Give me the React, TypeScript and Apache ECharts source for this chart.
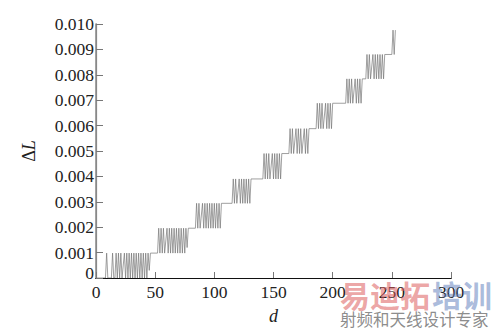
import React, { useEffect, useRef } from 'react';
import * as echarts from 'echarts';

const xTickValues = [0, 50, 100, 150, 200, 250, 300];
const yTickValues = [0, 0.001, 0.002, 0.003, 0.004, 0.005, 0.006, 0.007, 0.008, 0.009, 0.01];

const step0: [number, number][] = [[0,0],[8,0],[9,0.00098],[10,0],[13,0],[14,0.00098],[15,0],[16,0],[17,0.00098],[18,0],[19,0.00098],[20,0],[21,0.00098],[22,0],[24,0.00098],[25,0],[26,0.00098],[27,0],[28,0.00098],[29,0],[30,0.00098],[31,0],[32,0.00098],[33,0],[34,0.00098],[35,0],[36,0.00098],[37,0],[38,0.00098],[39,0],[40,0.00098],[41,0],[42,0.00098],[43,0],[44,0.00098],[45,0.0003],[46,0.00098],[52,0.00098]];
const step1: [number, number][] = [[53,0.00196],[54,0.00098],[55,0.00196],[56,0.00098],[57,0.00196],[58,0.00098],[60,0.00196],[61,0.00098],[62,0.00196],[63,0.00098],[64,0.00196],[65,0.00098],[66,0.00196],[67,0.00098],[68,0.00196],[69,0.00098],[70,0.00196],[71,0.00098],[72,0.00196],[73,0.00098],[74,0.00196],[75,0.00098],[76,0.00196],[77,0.0012],[78,0.00196],[84,0.00196]];
const step2: [number, number][] = [[85,0.00294],[86,0.00196],[87,0.00294],[88,0.00196],[90,0.00294],[91,0.00196],[92,0.00294],[93,0.00196],[94,0.00294],[95,0.00196],[96,0.00294],[97,0.00196],[98,0.00294],[99,0.00196],[100,0.00294],[101,0.00196],[102,0.00294],[103,0.00196],[104,0.00294],[105,0.00196],[106,0.00294],[115,0.00294]];
const step3: [number, number][] = [[116,0.0039],[117,0.00294],[118,0.0039],[119,0.00294],[121,0.0039],[122,0.00294],[123,0.0039],[124,0.00294],[125,0.0039],[126,0.00294],[127,0.0039],[128,0.00294],[129,0.0039],[130,0.00294],[131,0.0039],[141,0.0039]];
const step4: [number, number][] = [[142,0.0049],[143,0.0039],[144,0.0049],[145,0.0039],[146,0.0049],[147,0.0039],[149,0.0049],[150,0.0039],[151,0.0049],[152,0.0039],[153,0.0049],[154,0.0039],[155,0.0049],[156,0.0039],[157,0.0049],[163,0.0049]];
const step5: [number, number][] = [[164,0.00588],[165,0.0049],[166,0.00588],[167,0.0049],[169,0.00588],[170,0.0049],[171,0.00588],[172,0.0049],[173,0.00588],[174,0.0049],[176,0.00588],[177,0.0049],[178,0.00588],[179,0.0049],[180,0.00588],[186,0.00588]];
const step6: [number, number][] = [[187,0.00688],[188,0.00588],[189,0.00688],[190,0.00588],[191,0.00688],[192,0.00588],[194,0.00688],[195,0.00588],[196,0.00688],[197,0.00588],[198,0.00688],[199,0.00588],[200,0.00688],[211,0.00688]];
const step7: [number, number][] = [[212,0.00784],[213,0.00688],[214,0.00784],[215,0.00688],[216,0.00784],[217,0.00688],[219,0.00784],[220,0.00688],[221,0.00784],[222,0.00688],[223,0.00784],[224,0.00688],[225,0.00784],[228,0.00784]];
const step8: [number, number][] = [[229,0.0088],[230,0.00784],[231,0.0088],[232,0.00784],[234,0.0088],[235,0.00784],[236,0.0088],[237,0.00784],[238,0.0088],[239,0.00784],[240,0.0088],[241,0.00784],[242,0.0088],[243,0.00784],[244,0.0088],[250,0.0088]];
const step9: [number, number][] = [[251,0.00976],[252,0.0088],[253,0.00976]];

const FONT = 'Times New Roman, Liberation Serif, serif';

export default function App() {
  const ref = useRef<HTMLDivElement>(null);
  useEffect(() => {
    if (!ref.current) return;
    const chart = echarts.init(ref.current, null, { renderer: 'svg' });
    const data = [...step0, ...step1, ...step2, ...step3, ...step4, ...step5, ...step6, ...step7, ...step8, ...step9];
    const xMin = xTickValues[0];
    const xMax = xTickValues[xTickValues.length - 1];
    const yMin = yTickValues[0];
    const yMax = yTickValues[yTickValues.length - 1];
    chart.setOption({
      animation: false,
      backgroundColor: '#fff',
      textStyle: { fontFamily: FONT },
      grid: { left: 96, right: 43, top: 24, bottom: 53 },
      xAxis: [
        {
          type: 'value', min: xMin, max: xMax, interval: 50, position: 'bottom',
          axisLine: { lineStyle: { color: '#111', width: 1.2 } },
          axisTick: { inside: true, length: 6, lineStyle: { color: '#777' } },
          axisLabel: { fontSize: 17.5, color: '#222', fontFamily: FONT, margin: 5 },
          splitLine: { show: false },
          name: 'd', nameLocation: 'middle', nameGap: 29,
          nameTextStyle: { fontSize: 18, fontStyle: 'italic', fontFamily: FONT, color: '#222' },
        },
        {
          type: 'value', min: xMin, max: xMax, position: 'top',
          axisLine: { lineStyle: { color: '#111', width: 1.2 } },
          axisTick: { show: false }, axisLabel: { show: false }, splitLine: { show: false },
        },
      ],
      yAxis: [
        {
          type: 'value', min: yMin, max: yMax, interval: 0.001, position: 'left',
          axisLine: { show: true, lineStyle: { color: '#888', width: 1.5 } },
          axisTick: { show: true, inside: true, length: 7, lineStyle: { color: '#777' } },
          axisLabel: {
            fontSize: 17.5, color: '#222', fontFamily: FONT, margin: 2,
            formatter: (v: number) => (v === 0 ? '{z|0}' : v.toFixed(3)),
            rich: { z: { fontSize: 17.5, fontFamily: FONT, color: '#222', padding: [0, 0, 10, 0] } },
          },
          splitLine: { show: false },
          name: '{a|Δ}{b|L}', nameLocation: 'middle', nameGap: 58,
          nameTextStyle: {
            rich: {
              a: { fontSize: 18, fontFamily: FONT, color: '#222' },
              b: { fontSize: 18, fontFamily: FONT, fontStyle: 'italic', color: '#222' },
            },
          },
        },
        {
          type: 'value', min: yMin, max: yMax, position: 'right',
          axisLine: { show: true, lineStyle: { color: '#888', width: 1.2 } },
          axisTick: { show: false }, axisLabel: { show: false }, splitLine: { show: false },
        },
      ],
      series: [
        {
          type: 'line', data, symbol: 'none', xAxisIndex: 0, yAxisIndex: 0,
          lineStyle: { color: '#777', width: 0.7 },
        },
      ],
      graphic: [
        { type: 'text', left: 340, top: 279, z: 100, style: { text: '易迪拓', fontSize: 30, fontWeight: 'bold', fontFamily: 'Noto Sans CJK SC', fill: 'rgba(220,90,90,0.55)' } },
        { type: 'text', left: 432, top: 279, z: 100, style: { text: '培训', fontSize: 30, fontWeight: 'bold', fontFamily: 'Noto Sans CJK SC', fill: 'rgba(100,130,190,0.55)' } },
        { type: 'text', left: 340, top: 311, z: 100, style: { text: '射频和天线设计专家', fontSize: 16.5, fontFamily: 'Noto Sans CJK SC', fill: 'rgba(110,110,110,0.8)' } },
      ],
    });
    return () => chart.dispose();
  }, []);
  return <div ref={ref} style={{ position: 'fixed', left: 0, top: 0, width: 494, height: 331 }} />;
}
